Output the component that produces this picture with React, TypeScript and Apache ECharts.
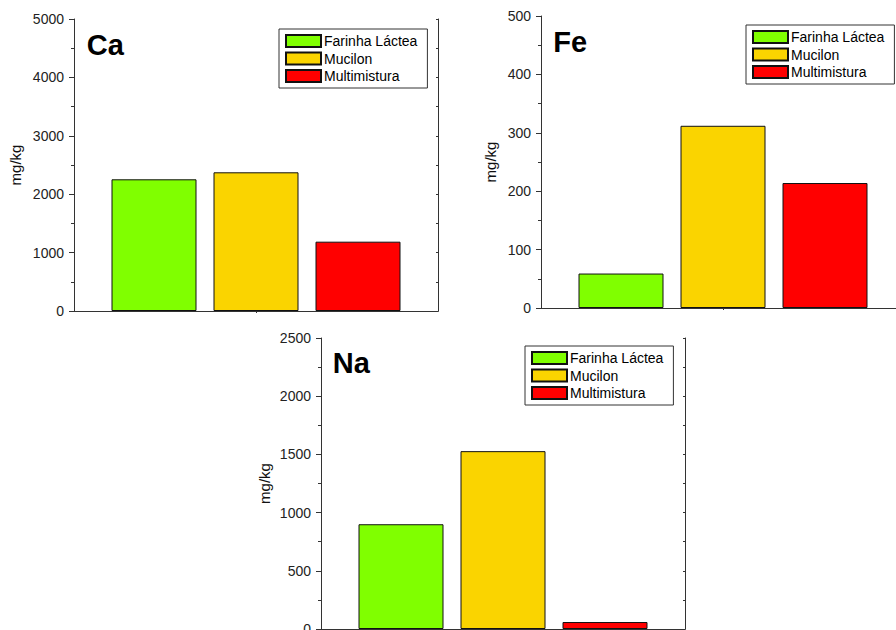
import React, { useEffect, useRef } from "react";
import * as echarts from "echarts";

const categories = ["Farinha Láctea", "Mucilon", "Multimistura"];
const barColors = ["#80ff00", "#fad400", "#ff0000"];
const panelTitles = ["Ca", "Fe", "Na"];
const caValues = [2255, 2375, 1187];
const feValues = [59, 312, 214];
const naValues = [900, 1528, 60];
const panelValues = [caValues, feValues, naValues];
const yMaxes = [5000, 500, 2500];
const yIntervals = [1000, 100, 500];
const yAxisName = "mg/kg";

const FONT = '"Liberation Sans", Arial, sans-serif';

const grids = [
  { left: 74, top: 19, width: 364, height: 292 },
  { left: 541, top: 16, width: 364, height: 292 },
  { left: 321, top: 338, width: 364, height: 291 },
];
const nameGaps = [51, 43, 49];
const legendPos = [
  { left: 279, top: 29 },
  { left: 746, top: 25 },
  { left: 525, top: 346 },
];
const titlePos = [
  { x: 86.7, y: 45 },
  { x: 553.3, y: 42 },
  { x: 332.7, y: 363 },
];

export default function App() {
  const ref = useRef<HTMLDivElement>(null);
  useEffect(() => {
    if (!ref.current) return;
    const chart = echarts.init(ref.current, null, { renderer: "svg" });
    const axisColor = "#333";
    const xAxis: any[] = [];
    const yAxis: any[] = [];
    const series: any[] = [];
    const legend: any[] = [];
    const graphic: any[] = [];
    grids.forEach((g, i) => {
      xAxis.push({
        type: "category",
        gridIndex: i,
        data: [""],
        axisLine: { show: true, lineStyle: { color: axisColor, width: 1 } },
        axisTick: { show: true, alignWithLabel: true, length: 2, lineStyle: { color: axisColor } },
        axisLabel: { show: false },
        splitLine: { show: false },
      });
      xAxis.push({
        type: "category",
        gridIndex: i,
        position: "top",
        data: [""],
        axisLine: { show: true, lineStyle: { color: axisColor, width: 1 } },
        axisTick: { show: true, alignWithLabel: true, inside: true, length: 2, lineStyle: { color: axisColor } },
        axisLabel: { show: false },
        splitLine: { show: false },
      });
      yAxis.push({
        type: "value",
        gridIndex: i,
        min: 0,
        max: yMaxes[i],
        interval: yIntervals[i],
        name: yAxisName,
        nameLocation: "middle",
        nameGap: nameGaps[i],
        nameTextStyle: { fontSize: 15, color: "#111", fontFamily: FONT },
        axisLine: { show: true, lineStyle: { color: axisColor, width: 1 } },
        axisTick: { show: true, length: 5, lineStyle: { color: axisColor } },
        minorTick: { show: true, splitNumber: 2, length: 3, lineStyle: { color: axisColor } },
        axisLabel: {
          fontSize: 14,
          color: "#222",
          margin: 10,
          fontFamily: FONT,
          formatter: (v: number) => String(v),
        },
        splitLine: { show: false },
      });
      yAxis.push({
        type: "value",
        gridIndex: i,
        position: "right",
        min: 0,
        max: yMaxes[i],
        interval: yIntervals[i],
        axisLine: { show: true, lineStyle: { color: axisColor, width: 1 } },
        axisTick: { show: true, inside: true, length: 2, lineStyle: { color: axisColor } },
        minorTick: { show: true, splitNumber: 2, length: 2, lineStyle: { color: axisColor } },
        axisLabel: { show: false },
        splitLine: { show: false },
      });
      categories.forEach((c, j) => {
        series.push({
          type: "bar",
          name: c,
          xAxisIndex: 2 * i,
          yAxisIndex: 2 * i,
          data: [panelValues[i][j]],
          barWidth: 85,
          barGap: "20%",
          itemStyle: { color: barColors[j], borderColor: "#111", borderWidth: 1 },
        });
      });
      legend.push({
        data: categories,
        left: legendPos[i].left,
        top: legendPos[i].top,
        orient: "vertical",
        icon: "rect",
        itemWidth: 35,
        itemHeight: 12,
        itemGap: 3.5,
        padding: [5, 10, 5, 6],
        borderColor: "#333",
        borderWidth: 1,
        selectedMode: false,
        textStyle: { fontSize: 14, color: "#000", fontFamily: FONT, padding: [0, 0, 0, -2] },
      });
      graphic.push({
        type: "text",
        x: titlePos[i].x,
        y: titlePos[i].y,
        style: {
          text: panelTitles[i],
          font: `bold 29px ${FONT}`,
          fill: "#000",
          verticalAlign: "middle",
          align: "left",
        },
      });
    });
    chart.setOption({
      animation: false,
      backgroundColor: "#fff",
      grid: grids.map((g) => ({ ...g, containLabel: false, outerBoundsMode: "none" })),
      xAxis,
      yAxis,
      series,
      legend,
      graphic,
    });
    return () => chart.dispose();
  }, []);
  return (
    <div
      ref={ref}
      style={{ width: 896, height: 630, position: "fixed", left: 0, top: 0 }}
    />
  );
}
